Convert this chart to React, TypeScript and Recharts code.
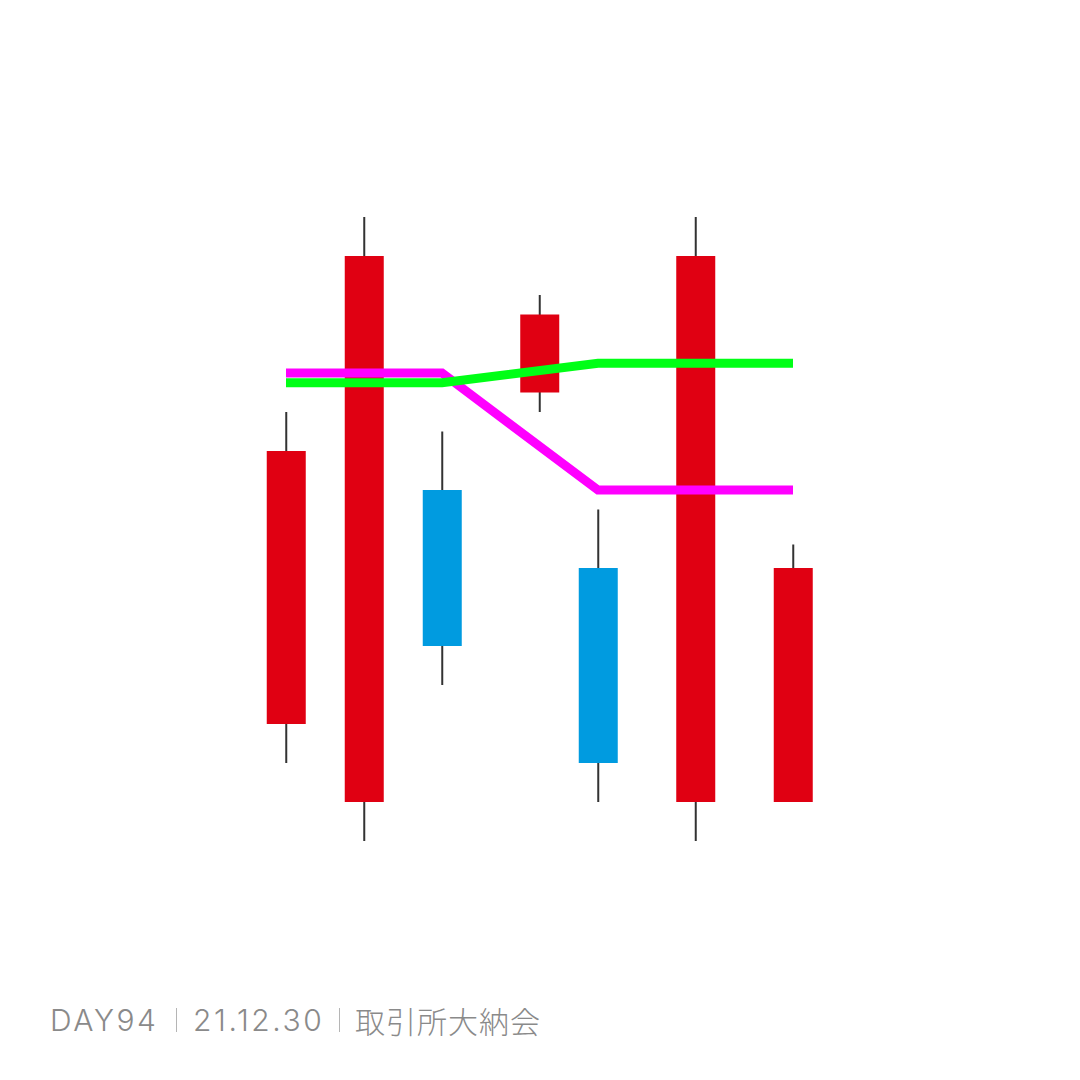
import React from 'react';
import { ComposedChart, Bar, Line, XAxis, YAxis } from 'recharts';

// candle positions (trading-day index) and prices in chart units
const days = [0, 4, 8, 13, 16, 21, 26];
const opens = [6, 2, 18, 23, 14, 2, 2];
const closes = [20, 30, 10, 27, 4, 30, 14];
const highs = [22, 32, 21, 28, 17, 32, 15.2];
const lows = [4, 0, 8, 22, 2, 0, 2];
const maShort = [24, 24, 24, null, 18, 18, 18];
const maLong = [23.5, 23.5, 23.5, null, 24.5, 24.5, 24.5];
// which candle sits above the average lines
const onTop = [false, false, false, true, false, false, false];

const UP = '#e00012';
const DOWN = '#009be0';
const WICK = '#333333';

const data = days.map((d, i) => ({
  day: d,
  range: onTop[i] ? null : [lows[i], highs[i]],
  rangeTop: onTop[i] ? [lows[i], highs[i]] : null,
  open: opens[i],
  close: closes[i],
  high: highs[i],
  low: lows[i],
  maShort: maShort[i],
  maLong: maLong[i],
}));

const Candle = (props: any) => {
  const { x, y, width, height, payload } = props;
  if (payload == null || height == null || !height) return null;
  const { open, close, high, low } = payload;
  const perUnit = height / (high - low);
  const toY = (v: number) => y + (high - v) * perUnit;
  const top = toY(Math.max(open, close));
  const bottom = toY(Math.min(open, close));
  const cx = x + width / 2;
  const color = close >= open ? UP : DOWN;
  return (
    <g>
      <line x1={cx} x2={cx} y1={y} y2={y + height} stroke={WICK} strokeWidth={2} />
      <rect x={x} y={top} width={width} height={bottom - top} fill={color} />
    </g>
  );
};

const Caption = () => {
  const base: React.CSSProperties = {
    position: 'absolute',
    top: 1005,
    fontSize: 30,
    lineHeight: '30px',
    color: '#8a8a8a',
    whiteSpace: 'nowrap',
  };
  const latin: React.CSSProperties = {
    fontFamily: 'Inter, "Liberation Sans", sans-serif',
    fontWeight: 300,
    fontSize: 30,
    letterSpacing: 2.6,
  };
  const sep: React.CSSProperties = {
    position: 'absolute',
    top: 1008,
    width: 1,
    height: 24,
    background: '#b5b5b5',
  };
  return (
    <>
      <div style={{ ...base, ...latin, left: 50 }}>DAY94</div>
      <div style={{ ...sep, left: 176 }} />
      <div style={{ ...base, ...latin, left: 193 }}>21.12.30</div>
      <div style={{ ...sep, left: 339 }} />
      <div style={{ ...base, left: 355, fontFamily: '"Noto Sans CJK JP", sans-serif', fontWeight: 300, letterSpacing: 1 }}>取引所大納会</div>
    </>
  );
};

export default function App() {
  return (
    <div style={{ position: 'absolute', left: 0, top: 0, width: 1080, height: 1080, background: '#ffffff' }}>
      <ComposedChart
        width={1080}
        height={1080}
        data={data}
        margin={{ top: 217, right: 287, bottom: 239, left: 286 }}
      >
        <XAxis xAxisId="a" dataKey="day" type="number" domain={[0, 26]} hide />
        <XAxis xAxisId="b" dataKey="day" type="number" domain={[0, 26]} hide />
        <YAxis type="number" domain={[0, 32]} allowDataOverflow hide />
        <Bar xAxisId="a" dataKey="range" barSize={39} shape={<Candle />} isAnimationActive={false} />
        <Line
          xAxisId="a"
          type="linear"
          dataKey="maShort"
          stroke="#ff00ff"
          strokeWidth={9}
          dot={false}
          connectNulls
          isAnimationActive={false}
        />
        <Line
          xAxisId="a"
          type="linear"
          dataKey="maLong"
          stroke="#00ff16"
          strokeWidth={9}
          dot={false}
          connectNulls
          isAnimationActive={false}
        />
        <Bar xAxisId="b" dataKey="rangeTop" barSize={39} shape={<Candle />} isAnimationActive={false} />
      </ComposedChart>
      <Caption />
    </div>
  );
}
